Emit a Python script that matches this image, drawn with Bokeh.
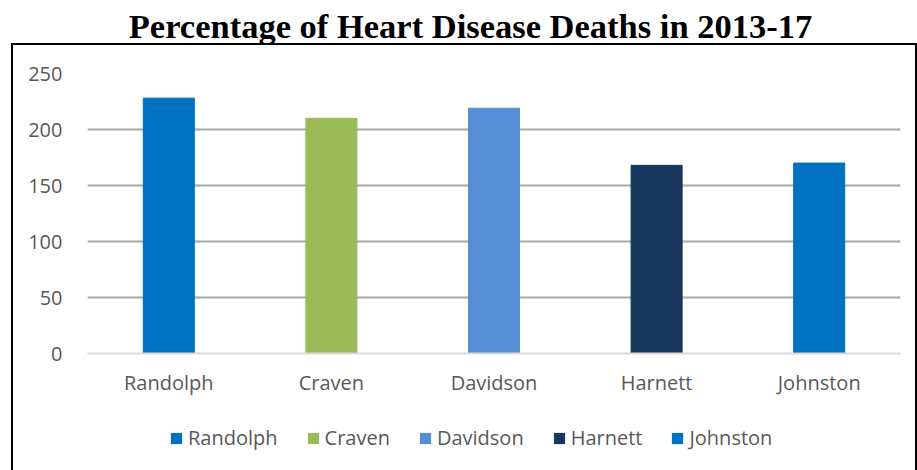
from bokeh.plotting import figure
from bokeh.models import ColumnDataSource, Legend, LegendItem, FixedTicker, Div
from bokeh.layouts import column
from bokeh.embed import file_html
from bokeh.resources import INLINE

counties = ["Randolph", "Craven", "Davidson", "Harnett", "Johnston"]
deaths = [228, 210, 219, 168, 170]
bar_colors = ["#0070C0", "#9BBB59", "#558ED5", "#17375E", "#0070C0"]
y_ticks = [0, 50, 100, 150, 200, 250]
title_text = "Percentage of Heart Disease Deaths in 2013-17"

source = ColumnDataSource(dict(county=counties, value=deaths, color=bar_colors))

title = Div(
    text=title_text, width=917, height=43, margin=(0, 0, 0, 0),
    styles={"font-family": "'Liberation Serif', serif", "font-weight": "bold",
            "font-size": "34.5px", "color": "#000000", "text-align": "center",
            "line-height": "52px", "text-indent": "24px", "white-space": "nowrap"},
)

# main chart
p = figure(x_range=counties, y_range=(0, 250), width=902, height=355,
           output_backend="svg", toolbar_location=None,
           min_border_left=74, min_border_right=15, min_border_top=28,
           min_border_bottom=47, margin=(0, 0, 0, 0))

p.vbar(x="county", top="value", width=0.314, color="color", source=source)

p.outline_line_color = None
p.xgrid.grid_line_color = None
p.ygrid.grid_line_color = "#A6A6A6"
p.ygrid.grid_line_width = 2
p.ygrid.ticker = FixedTicker(ticks=[50, 100, 150, 200, 250])
p.yaxis.ticker = FixedTicker(ticks=y_ticks)
p.yaxis.axis_line_color = None
p.yaxis.major_tick_line_color = None
p.yaxis.minor_tick_line_color = None
p.yaxis.major_label_standoff = 19
p.xaxis.axis_line_color = "#D9D9D9"
p.xaxis.axis_line_width = 2
p.xaxis.major_tick_line_color = None
p.xaxis.major_label_standoff = 9
for ax in (p.xaxis, p.yaxis):
    ax.major_label_text_font = "Open Sans"
    ax.major_label_text_font_size = "20px"
    ax.major_label_text_color = "#595959"

# legend strip (its bars lie far outside its y range; only the legend shows)
lg = figure(x_range=counties, y_range=(1000, 1001), width=902, height=74,
            output_backend="svg", toolbar_location=None, min_border=0,
            margin=(0, 0, 0, 0))
lg.axis.visible = False
lg.grid.grid_line_color = None
lg.outline_line_color = None
rr = lg.vbar(x="county", top="value", width=0.0, fill_color="color",
             line_alpha=0, source=source)
items = [LegendItem(label=c, renderers=[rr], index=i) for i, c in enumerate(counties)]
legend = Legend(items=items, orientation="horizontal", location=(82, 23))
legend.border_line_color = None
legend.background_fill_alpha = 0
legend.glyph_width = 14
legend.glyph_height = 14
legend.label_standoff = 5
legend.spacing = 28
legend.padding = 0
legend.margin = 0
legend.label_text_font = "Open Sans"
legend.label_text_font_size = "20px"
legend.label_text_color = "#595959"
lg.add_layout(legend, "center")

box = column(p, lg, spacing=0, margin=(0, 0, 0, 11),
             styles={"border": "2px solid #000000"})

layout = column(title, box, spacing=0)
open("out.html", "w").write(file_html(layout, INLINE))
